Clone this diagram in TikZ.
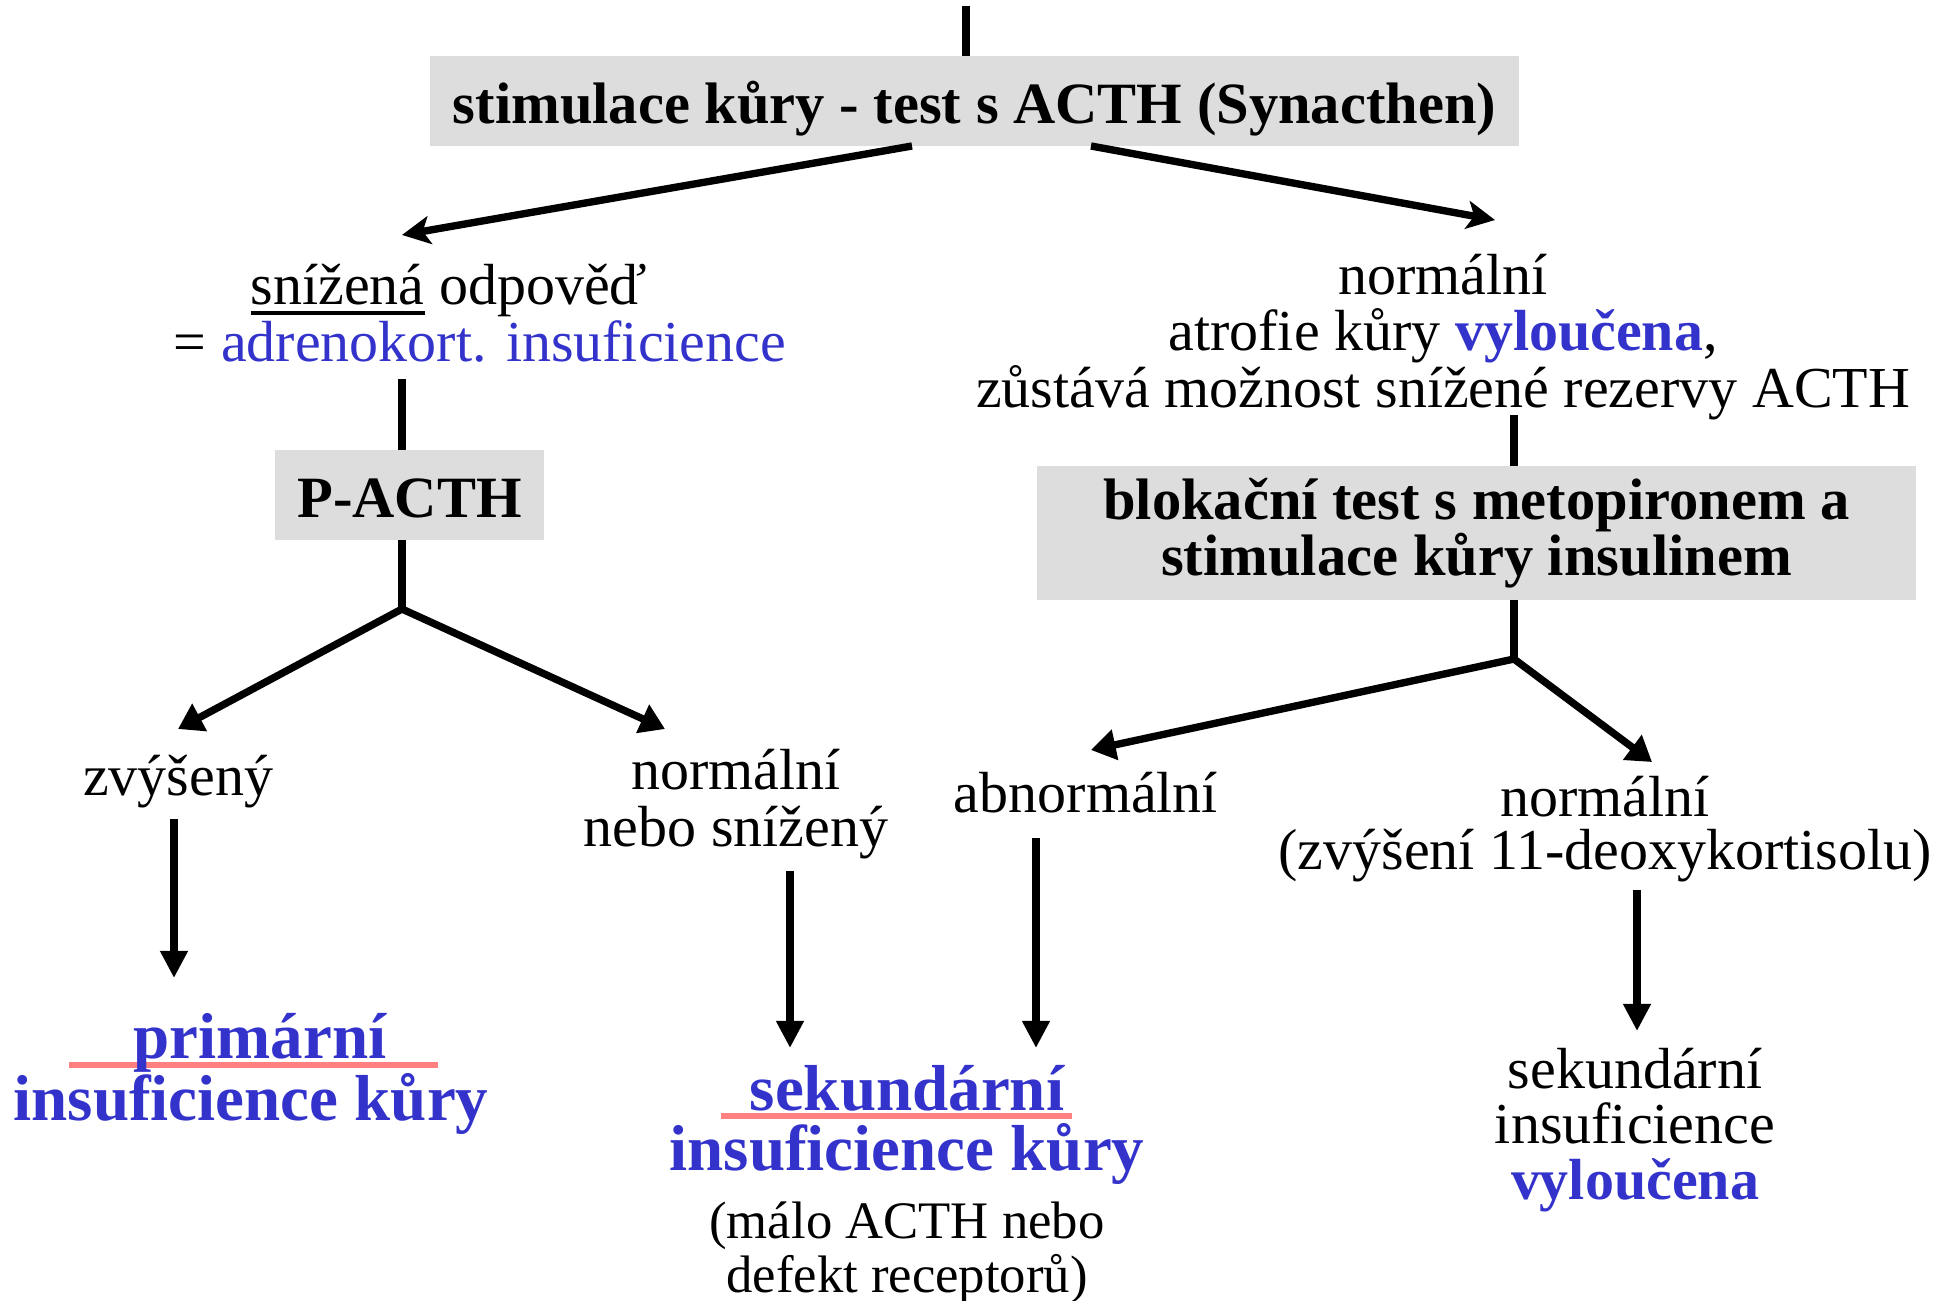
\documentclass[tikz,border=0pt]{standalone}
\usepackage{fontspec}
\setmainfont{Liberation Serif}
\usetikzlibrary{arrows.meta}
\definecolor{tblue}{HTML}{3333CC}
\definecolor{boxgray}{HTML}{DDDDDD}
\definecolor{ulred}{HTML}{FF8080}
\newcommand\thickul[1]{\setbox0\hbox{#1}\rlap{\rule[-6pt]{\wd0}{2pt}}\box0\relax}
\begin{document}
\begin{tikzpicture}[x=0.02cm,y=-0.02cm,
 txt/.style={font=\fontsize{33}{32}\selectfont, inner sep=0pt, align=center},
 btxt/.style={font=\fontsize{37}{35}\selectfont\bfseries, text=tblue, inner sep=0pt, align=center},
 graybox/.style={fill=boxgray, font=\fontsize{33.3}{31.7}\selectfont\bfseries, align=center, inner sep=0pt},
 conn/.style={line width=4.2pt},
 topconn/.style={line width=5pt},
 darr/.style={line width=4.2pt, -{Triangle[length=14pt,width=17pt]}},
 sarr/.style={line width=4.2pt, -{Stealth[length=16pt,width=16pt,inset=4pt]}},
 varr/.style={line width=4.4pt, -{Triangle[length=15.5pt,width=15pt]}},
 redline/.style={draw=ulred, line width=3pt}]
\useasboundingbox (0,0) rectangle (1960,1301);

% boxes
\node[graybox, minimum width=21.78cm, minimum height=1.8cm, text height=32pt, text depth=6pt] (box1) at (974.5,101) {stimulace kůry - test s ACTH (Synacthen)};
\node[graybox, minimum width=5.38cm, minimum height=1.8cm, text height=27pt, text depth=1pt] (pacth) at (409.5,495) {P-ACTH};
\node[graybox, minimum width=17.58cm, minimum height=2.68cm] (box2) at (1476.5,533) {blokační test s metopironem a\\stimulace kůry insulinem};

% left texts
\node[txt] (sn1) at (449,290) {\thickul{snížená} odpověď};
\node[txt] (sn2) at (480,341) {= \textcolor{tblue}{adrenokort. insuficience}};
\node[txt] (zvys) at (178,782) {zvýšený};
\node[txt] (nns) at (736,804) {normální\\nebo snížený};
\draw[redline] (69,1065) -- (438,1065);
\node[btxt] (prim) at (260,1043) {primární};
\node[btxt] (insk1) at (251,1104) {insuficience kůry};

% right texts
\node[txt, font=\fontsize{33}{32.3}\selectfont] (norm1) at (1443,337) {normální\\atrofie kůry \textcolor{tblue}{\bfseries vyloučena},\\zůstává možnost snížené rezervy ACTH};
\node[txt] (abn) at (1086,793) {abnormální};
\node[txt, font=\fontsize{33}{30.6}\selectfont] (norm2) at (1605,829) {normální\\(zvýšení 11-deoxykortisolu)};
\draw[redline] (721,1116) -- (1072,1116);
\node[btxt] (sek) at (907,1088) {sekundární};
\node[btxt] (insk2) at (907,1154) {insuficience kůry};
\node[txt, font=\fontsize{30}{30.5}\selectfont] (malo) at (907,1253) {(málo ACTH nebo\\defekt receptorů)};
\node[txt, font=\fontsize{33}{31.4}\selectfont] (sekv) at (1635,1130) {sekundární\\insuficience\\\textcolor{tblue}{\bfseries vyloučena}};

% coordinates
\coordinate (t0) at (966,6);
\coordinate (b1l) at (912,146);
\coordinate (b1r) at (1091,146);
\coordinate (e1l) at (402,235);
\coordinate (e1r) at (1495,220);
\coordinate (sl) at (402,379);
\coordinate (j1) at (402,609);
\coordinate (e2l) at (178,729);
\coordinate (e2r) at (665,729);
\coordinate (zs) at (174,819);
\coordinate (ze) at (174,978);
\coordinate (ns) at (790,871);
\coordinate (ne) at (790,1048);
\coordinate (rs) at (1514,415);
\coordinate (j2) at (1514,659);
\coordinate (e3l) at (1091,750);
\coordinate (e3r) at (1652,762);
\coordinate (as) at (1036,838);
\coordinate (ae) at (1036,1048);
\coordinate (ms) at (1637,890);
\coordinate (me) at (1637,1031);

% connectors
\draw[topconn] (t0) -- (t0 |- box1.north);
\draw[sarr] (b1l) -- (e1l);
\draw[sarr] (b1r) -- (e1r);
\draw[conn] (sl) -- (sl |- pacth.north);
\draw[conn] (j1 |- pacth.south) -- (j1);
\draw[darr] (j1) -- (e2l);
\draw[darr] (j1) -- (e2r);
\draw[varr] (zs) -- (ze);
\draw[varr] (ns) -- (ne);
\draw[conn] (rs) -- (rs |- box2.north);
\draw[conn] (j2 |- box2.south) -- (j2);
\draw[darr] (j2) -- (e3l);
\draw[darr] (j2) -- (e3r);
\draw[varr] (as) -- (ae);
\draw[varr] (ms) -- (me);
\end{tikzpicture}
\end{document}
